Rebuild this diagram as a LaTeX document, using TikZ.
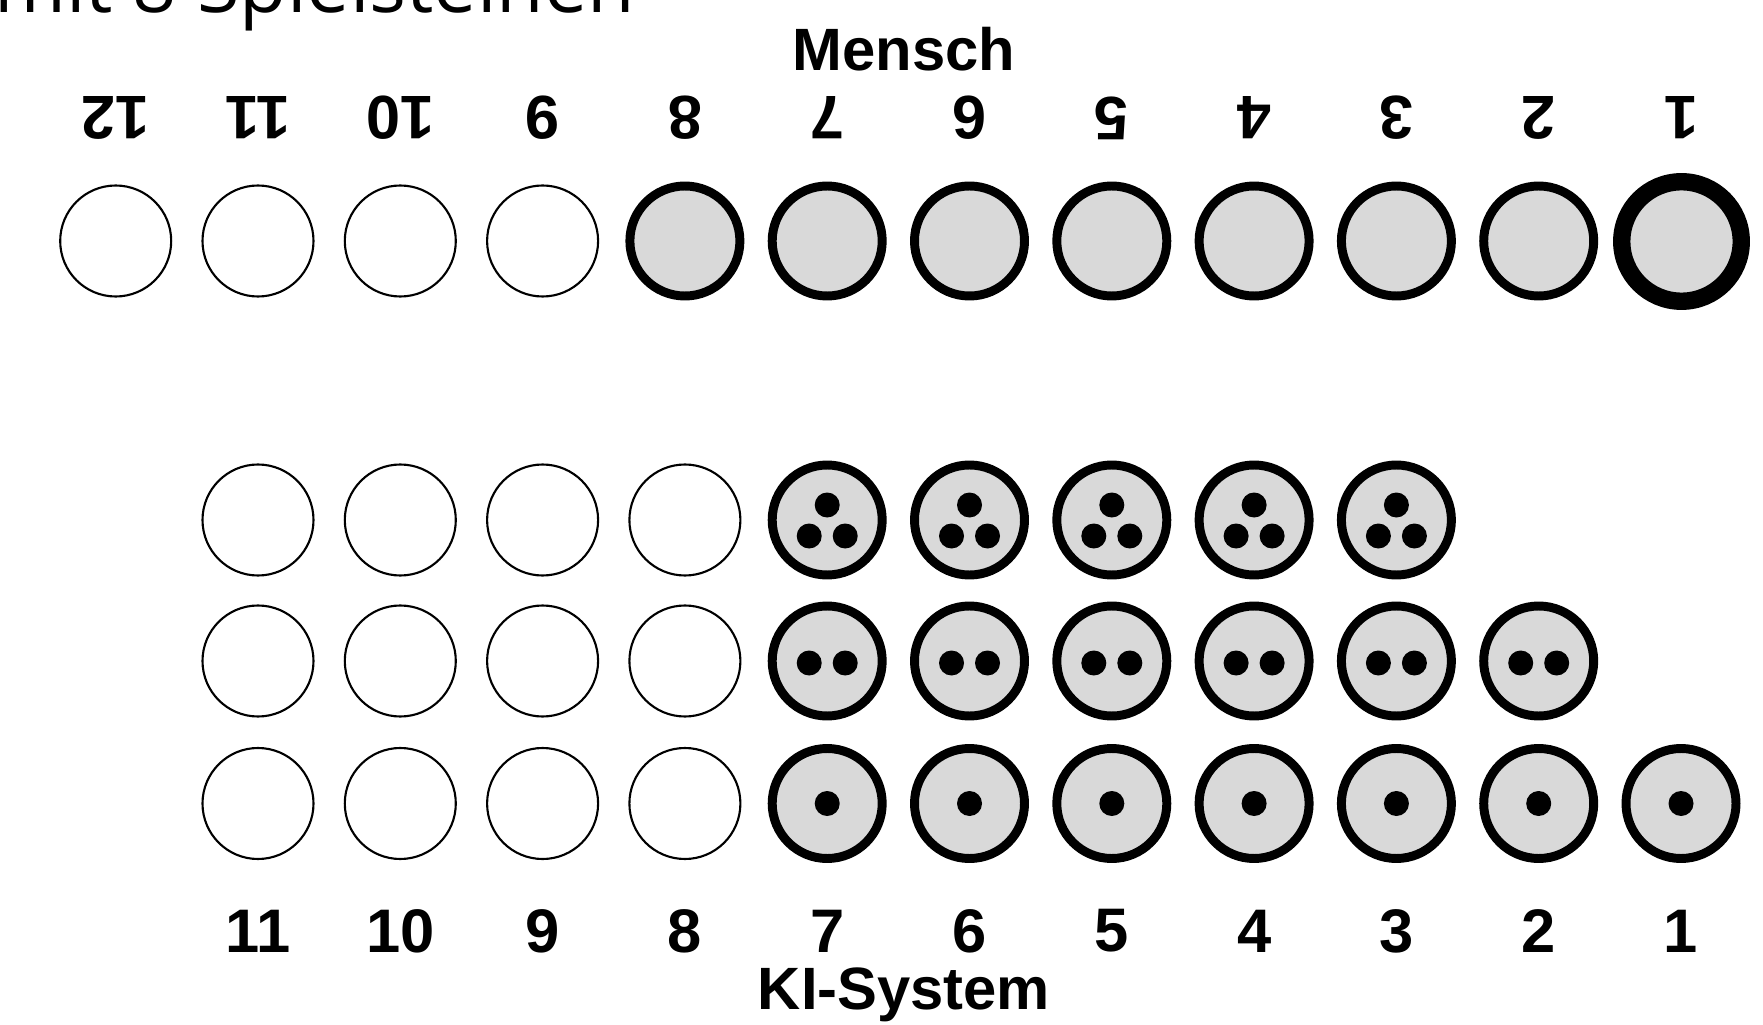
\documentclass[tikz,border=0pt]{standalone}
\usepackage{fontspec}
\setmainfont{Liberation Sans}
\newfontfamily\headfont{Open Sans}
\definecolor{stonegray}{HTML}{D9D9D9}

\begin{document}
\begin{tikzpicture}[
    every node/.style={inner sep=0pt, outer sep=0pt},
    free/.style={circle, draw, line width=0.6pt, minimum size=1.11cm},
    stone/.style={circle, draw, fill=stonegray, line width=2.55pt, minimum size=1.10cm},
    laststone/.style={stone, line width=4.95pt, minimum size=1.195cm},
    pip/.style={circle, fill=black, minimum size=0.25cm},
    num/.style={font=\fontsize{17.5}{20}\selectfont\bfseries},
    side/.style={font=\fontsize{17}{20}\selectfont\bfseries, anchor=base}
]
    \useasboundingbox (0,0) rectangle (17.63,10.24);
    \clip (0,0) rectangle (17.63,10.24);

    % Kopfzeile, oben abgeschnitten
    \node[font={\fontsize{22}{26}\headfont}, anchor=base east] (title) at (6.35,10.11) {mit 8 Spielsteinen};

    % Mensch (oben, Zahlen auf dem Kopf)
    \node[side] (mensch) at (9.04,9.53) {Mensch};
    \foreach \n in {1,...,12}
        \node[num, rotate=180] (mn\n) at ({1.157+1.423*(12-\n)},9.06) {\n};

    \foreach \n in {9,...,12}
        \node[free] (m\n) at ({1.157+1.423*(12-\n)},7.83) {};
    \foreach \n in {2,...,8}
        \node[stone] (m\n) at ({1.157+1.423*(12-\n)},7.83) {};
    \node[laststone] (m1) at (16.815,7.825) {};

    % KI-System (unten, drei Reihen)
    \foreach \n in {8,...,11} {
        \node[free] (kc\n) at ({1.157+1.423*(12-\n)},5.04) {};
        \node[free] (kb\n) at ({1.157+1.423*(12-\n)},3.63) {};
        \node[free] (ka\n) at ({1.157+1.423*(12-\n)},2.205) {};
    }
    \foreach \n in {3,...,7} {
        \node[stone] (kc\n) at ({1.157+1.423*(12-\n)},5.04) {};
        \node[pip] (kc\n-t) at ([yshift=0.15cm]kc\n.center) {};
        \node[pip] (kc\n-l) at ([shift={(-0.18,-0.16)}]kc\n.center) {};
        \node[pip] (kc\n-r) at ([shift={(0.18,-0.16)}]kc\n.center) {};
    }
    \foreach \n in {2,...,7} {
        \node[stone] (kb\n) at ({1.157+1.423*(12-\n)},3.63) {};
        \node[pip] (kb\n-l) at ([shift={(-0.18,-0.02)}]kb\n.center) {};
        \node[pip] (kb\n-r) at ([shift={(0.18,-0.02)}]kb\n.center) {};
    }
    \foreach \n in {1,...,7} {
        \node[stone] (ka\n) at ({1.157+1.423*(12-\n)},2.205) {};
        \node[pip] (ka\n-p) at (ka\n.center) {};
    }

    \foreach \n in {1,...,11}
        \node[num] (kn\n) at ({1.157+1.423*(12-\n)},0.93) {\n};
    \node[side] (ki) at (9.04,0.147) {KI-System};
\end{tikzpicture}
\end{document}
